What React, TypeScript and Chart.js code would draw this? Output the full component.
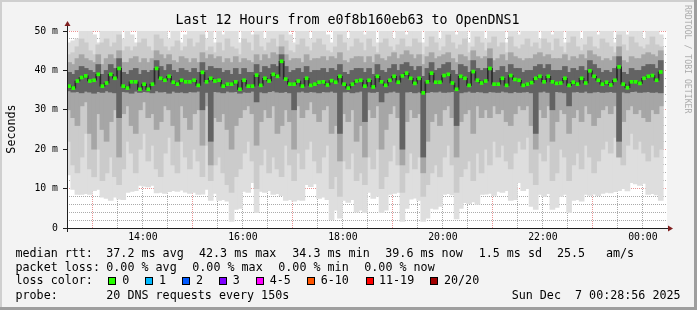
import React, { useEffect, useRef } from 'react';
import { Chart, registerables } from 'chart.js';
Chart.register(...registerables);

// time axis: minutes since midnight (start 12:28:56, 12 hours span)
const START_MIN = 12 * 60 + 28 + 56 / 60;
const SPAN_MIN = 720;
const STEP_MIN = 5;

const TITLE = 'Last 12 Hours from e0f8b160eb63 to OpenDNS1';
const X_TICK_VALUES = [840, 960, 1080, 1200, 1320, 1440];
const X_TICK_LABELS = ['14:00', '16:00', '18:00', '20:00', '22:00', '00:00'];
const X_GRID_VALUES = [750, 780, 810, 840, 870, 900, 930, 960, 990, 1020, 1050, 1080, 1110, 1140, 1170, 1200, 1230, 1260, 1290, 1320, 1350, 1380, 1410, 1440];
const Y_TICK_VALUES = [0, 10, 20, 30, 40, 50];
const Y_TICK_LABELS = ['0', '10 m', '20 m', '30 m', '40 m', '50 m'];

// median rtt (ms) per 5-minute column
const MEDIAN = [
  36.0, 35.5, 37.3, 38.2, 38.6, 37.3, 37.5, 39.0, 36.0, 36.8,
  39.0, 38.0, 40.5, 36.0, 35.5, 37.1, 37.1, 35.2, 36.5, 35.2,
  36.5, 40.5, 38.0, 37.5, 38.5, 37.0, 36.5, 37.5, 37.1, 37.1,
  37.5, 36.2, 39.5, 37.1, 38.0, 37.3, 37.5, 36.0, 36.5, 36.5,
  37.1, 35.2, 37.5, 36.0, 36.0, 38.8, 36.2, 38.0, 37.3, 39.0,
  38.5, 42.3, 37.8, 36.5, 36.5, 37.3, 36.0, 38.0, 36.2, 36.5,
  37.0, 37.1, 36.3, 37.4, 37.0, 38.5, 36.5, 35.5, 36.5, 37.3,
  37.5, 36.0, 37.5, 35.8, 38.5, 37.1, 36.2, 37.5, 38.5, 37.0,
  38.6, 39.3, 38.0, 36.7, 38.0, 34.3, 37.1, 39.3, 37.0, 37.0,
  38.7, 39.0, 36.8, 35.2, 38.5, 38.0, 36.2, 39.7, 37.5, 36.8,
  37.3, 40.5, 36.5, 36.5, 38.0, 36.2, 38.7, 37.7, 37.5, 36.2,
  36.5, 36.9, 38.0, 38.5, 37.1, 38.5, 37.1, 36.7, 36.8, 38.0,
  36.2, 37.0, 36.5, 38.0, 36.8, 39.9, 38.5, 37.5, 36.5, 37.0,
  36.3, 37.5, 40.9, 36.5, 35.6, 37.1, 37.1, 36.7, 38.0, 38.5,
  38.7, 37.5, 39.6,
];

// smoke: lowest ping per column
const SMOKE_MIN = [
  13.5, 9.8, 8.5, 8.5, 8.7, 8.5, 9.5, 9.8, 7.8, 7.5,
  7.0, 7.8, 7.3, 7.2, 9.0, 9.3, 9.5, 10.8, 10.6, 10.4,
  10.8, 8.9, 9.0, 8.8, 9.2, 9.5, 9.3, 9.6, 9.1, 8.8,
  9.0, 8.5, 8.6, 9.8, 7.0, 8.8, 7.0, 7.2, 6.8, 1.7,
  4.7, 5.0, 9.3, 9.0, 11.5, 3.9, 9.3, 9.0, 9.5, 8.5,
  8.7, 8.2, 7.0, 7.2, 6.8, 7.1, 7.0, 11.0, 10.5, 11.2,
  7.5, 7.8, 7.2, 2.1, 4.5, 2.5, 7.0, 6.5, 7.2, 4.0,
  4.5, 3.9, 9.0, 7.5, 8.0, 3.9, 4.5, 8.5, 8.8, 9.0,
  1.7, 5.0, 7.3, 7.6, 7.0, 1.7, 2.5, 5.0, 4.8, 5.5,
  8.5, 8.7, 8.4, 2.3, 5.0, 6.4, 6.2, 6.6, 6.0, 8.5,
  8.6, 8.8, 8.3, 9.3, 9.0, 9.5, 7.0, 7.2, 11.5, 9.5,
  10.0, 5.5, 4.7, 8.5, 8.0, 8.7, 4.7, 5.2, 8.0, 8.5,
  3.9, 7.0, 7.2, 6.8, 8.5, 8.3, 8.6, 8.2, 8.8, 9.0,
  8.9, 9.2, 9.5, 10.0, 9.4, 11.5, 11.2, 10.8, 11.3, 8.5,
  8.7, 8.4, 7.0,
];
// smoke: lower edge of the mid-grey band
const SMOKE_LOW2 = [
  22, 16, 14, 18, 24, 15, 13, 20, 12, 14,
  18, 13, 11, 15, 22, 19, 14, 20, 24, 17,
  21, 15, 13, 19, 23, 16, 14, 22, 18, 15,
  20, 17, 13, 21, 12, 16, 18, 14, 11, 9,
  13, 15, 19, 22, 17, 10, 16, 20, 14, 18,
  15, 13, 21, 16, 12, 19, 15, 20, 22, 17,
  14, 18, 21, 10, 13, 8, 17, 15, 19, 12,
  14, 11, 18, 15, 20, 10, 13, 17, 21, 16,
  9, 14, 19, 15, 18, 8, 11, 14, 16, 13,
  18, 21, 16, 9, 13, 15, 17, 12, 19, 14,
  20, 16, 22, 18, 21, 17, 15, 19, 22, 20,
  23, 14, 11, 19, 17, 21, 12, 14, 20, 18,
  12, 16, 19, 15, 21, 18, 14, 17, 20, 22,
  19, 23, 18, 16, 21, 24, 20, 22, 19, 17,
  21, 18, 20,
];
// smoke: lower edge of the grey band
const SMOKE_LOW3 = [
  30, 28, 26, 31, 32, 24, 20, 29, 25, 22,
  27, 30, 18, 29, 31, 26, 24, 30, 32, 28,
  29, 25, 27, 31, 30, 26, 22, 31, 28, 25,
  29, 30, 21, 31, 16, 28, 27, 29, 25, 20,
  26, 28, 30, 31, 29, 21, 27, 30, 28, 31,
  24, 26, 30, 27, 20, 31, 28, 30, 32, 29,
  27, 30, 31, 24, 26, 17, 29, 27, 30, 22,
  26, 18, 30, 28, 31, 20, 25, 29, 31, 28,
  16, 27, 30, 28, 29, 14, 22, 27, 29, 26,
  30, 31, 28, 18, 27, 29, 30, 24, 31, 28,
  30, 28, 31, 29, 30, 27, 26, 29, 31, 30,
  31, 26, 20, 30, 28, 31, 22, 27, 30, 29,
  24, 28, 30, 27, 31, 29, 26, 28, 30, 31,
  29, 31, 18, 27, 30, 31, 29, 30, 28, 27,
  30, 29, 31,
];
// smoke: dark core, lower edge
const CORE_LOW = [
  34.8, 34.5, 34.6, 34.3, 34.7, 34.5, 34.2, 34.6, 34.4, 34.8,
  34.5, 34.3, 28, 34.6, 34.5, 34.2, 34.7, 34.4, 34.6, 34.5,
  34.3, 34.8, 34.5, 34.6, 34.2, 34.7, 34.4, 34.5, 34.3, 34.6,
  34.5, 34.7, 30, 34.4, 22, 34.6, 34.5, 34.3, 34.7, 34.5,
  34.6, 34.2, 34.5, 34.4, 34.7, 32, 34.5, 34.3, 34.6, 34.8,
  34.5, 34.4, 34.6, 34.3, 30, 34.5, 34.7, 34.4, 34.6, 34.5,
  34.3, 34.6, 34.5, 34.7, 34.4, 24, 34.5, 34.6, 34.3, 34.5,
  34.7, 27, 34.5, 34.4, 34.6, 32, 34.3, 34.5, 34.7, 34.4,
  20, 34.5, 34.6, 34.3, 34.5, 18, 34.4, 34.6, 34.5, 34.7,
  34.4, 34.5, 34.6, 26, 34.3, 34.5, 34.7, 34.4, 34.6, 34.5,
  34.3, 34.6, 34.5, 34.4, 34.7, 34.5, 34.3, 34.6, 34.4, 34.5,
  34.6, 34.3, 24, 34.5, 34.7, 34.4, 30, 34.6, 34.5, 34.3,
  31, 34.5, 34.6, 34.4, 34.7, 34.3, 34.5, 34.6, 34.4, 34.5,
  34.6, 34.4, 22, 34.5, 34.3, 34.6, 34.7, 34.4, 34.5, 34.6,
  34.4, 34.5, 34.3,
];
// smoke: dark core, upper edge
const CORE_HIGH = [
  39.5, 39.0, 40.0, 41.0, 40.5, 40.0, 39.5, 41.5, 39.0, 40.0,
  41.5, 40.5, 43.0, 39.5, 39.0, 40.0, 40.5, 39.0, 40.0, 39.5,
  40.0, 42.5, 41.0, 40.0, 41.5, 40.0, 39.5, 40.5, 40.0, 39.5,
  40.5, 39.5, 42.0, 40.0, 41.0, 40.5, 40.5, 39.5, 40.0, 39.0,
  40.5, 39.0, 40.5, 39.5, 39.5, 41.5, 39.5, 41.0, 40.5, 41.5,
  41.0, 44.0, 41.0, 39.5, 40.0, 40.5, 39.5, 41.0, 39.5, 40.0,
  40.0, 40.5, 39.5, 40.5, 40.0, 41.5, 39.5, 39.0, 40.0, 40.5,
  40.5, 39.5, 40.5, 39.0, 41.5, 40.0, 39.5, 40.5, 41.5, 40.0,
  41.5, 42.0, 41.0, 40.0, 41.0, 38.5, 40.5, 42.0, 40.0, 40.5,
  41.5, 42.0, 40.0, 39.0, 41.5, 41.0, 39.5, 42.5, 40.5, 40.0,
  40.5, 43.0, 39.5, 40.0, 41.0, 39.5, 41.5, 40.5, 40.5, 39.5,
  40.0, 40.0, 41.0, 41.5, 40.5, 41.5, 40.0, 40.0, 40.0, 41.0,
  39.5, 40.5, 40.0, 41.0, 40.0, 42.5, 41.5, 40.5, 39.5, 40.0,
  39.5, 40.5, 43.5, 39.5, 39.0, 40.5, 40.0, 40.0, 41.0, 41.5,
  41.5, 40.5, 42.5,
];
// smoke: upper edge of the grey band
const SMOKE_HIGH3 = [
  42, 41.5, 43, 44, 43, 42.5, 42, 44, 41.5, 43,
  44, 43, 45, 42, 42, 43, 43.5, 42, 43, 42,
  43, 45, 44, 43, 44, 42.5, 42, 43.5, 43, 42,
  43, 42, 44.5, 43, 44, 43, 43.5, 42, 43, 42,
  43.5, 42, 43, 42.5, 42, 44, 42.5, 44, 43, 44.5,
  44, 46, 44, 42.5, 43, 43, 42, 44, 42.5, 43,
  43, 43.5, 42.5, 43.5, 43, 44.5, 42.5, 42, 43, 43.5,
  43.5, 42, 43.5, 42, 44, 43, 42.5, 43.5, 44.5, 43,
  44, 45, 44, 43, 44, 41.5, 43.5, 44.5, 43, 43.5,
  44, 44.5, 43, 42, 44, 43.5, 42.5, 45, 43.5, 43,
  43.5, 45.5, 42.5, 43, 44, 42.5, 44.5, 43.5, 43, 42.5,
  43, 43, 44, 44.5, 43.5, 44, 43, 43, 43, 44,
  42.5, 43.5, 43, 44, 43, 45, 44, 43.5, 42.5, 43,
  42.5, 43.5, 46, 42.5, 42, 43.5, 43, 43, 44, 44.5,
  44, 43.5, 45,
];
// smoke: upper edge of the mid-grey band
const SMOKE_HIGH2 = [
  44, 44.5, 46, 48, 47, 45, 44, 46.5, 47, 48,
  46, 47, 49, 45, 46, 45, 46, 47, 48, 46,
  45, 49, 48, 46, 45, 46, 47.5, 45, 46, 48,
  46, 47, 49, 45, 46, 44.5, 47, 45, 48, 46,
  45.5, 44, 48, 47, 45, 49, 46, 45, 47, 48,
  46, 49, 47.5, 45, 44.5, 46.5, 48, 46, 45, 47,
  48, 46.5, 45, 44.5, 46, 49, 47, 45, 46, 48,
  47, 45, 48, 46, 44.5, 47, 48, 46, 45, 46.5,
  48, 46, 46, 48, 47, 44, 46, 48.5, 47, 45,
  46, 49, 47, 45.5, 46.5, 48, 44.5, 46, 48.5, 47,
  45, 47, 48.5, 46, 47, 44.5, 48.5, 46, 45.5, 46.5,
  48, 46, 47, 45.5, 48, 47, 45, 48, 46, 44.5,
  47, 48.5, 46, 45, 46.5, 48.5, 46, 45.5, 48, 47,
  46, 44.5, 49, 46.5, 45, 48.5, 47, 46, 45.5, 46.5,
  48.5, 46.5, 46,
];
// smoke: highest ping per column
const SMOKE_MAX = [
  47, 47.5, 48, 52, 55, 50, 49, 47, 52, 55,
  51, 53, 55, 48, 52, 49, 47, 52, 55, 53,
  50, 55, 55, 52, 48, 50, 53, 47, 49, 55,
  51, 52, 55, 48, 50, 47, 53, 49, 55, 52,
  50, 47, 55, 53, 49, 55, 51, 48, 52, 55,
  50, 55, 53, 49, 47, 52, 55, 50, 48, 53,
  55, 52, 49, 47, 51, 55, 53, 48, 50, 55,
  52, 49, 55, 51, 47, 53, 55, 50, 48, 52,
  55, 49, 51, 55, 53, 47, 50, 55, 52, 48,
  51, 55, 53, 49, 52, 55, 47, 50, 55, 53,
  48, 52, 55, 50, 53, 47, 55, 51, 49, 52,
  55, 50, 53, 48, 55, 52, 49, 55, 51, 47,
  53, 55, 50, 48, 52, 55, 51, 49, 55, 53,
  50, 47, 55, 52, 49, 55, 53, 50, 48, 52,
  55, 51, 49,
];

const LEGEND_ROW1 = [
  { x: 15.5, t: 'median rtt:' },
  { x: 106.3, t: '37.2 ms avg' },
  { x: 199, t: '42.3 ms max' },
  { x: 292.3, t: '34.3 ms min' },
  { x: 385.3, t: '39.6 ms now' },
  { x: 478.7, t: '1.5 ms sd' },
  { x: 557, t: '25.5' },
  { x: 606, t: 'am/s' },
];
const LEGEND_ROW2 = [
  { x: 15.5, t: 'packet loss:' },
  { x: 106.3, t: '0.00 % avg' },
  { x: 192.3, t: '0.00 % max' },
  { x: 278.3, t: '0.00 % min' },
  { x: 364.3, t: '0.00 % now' },
];
const LOSS_LABELS = ['0', '1', '2', '3', '4-5', '6-10', '11-19', '20/20'];
const LOSS_COLORS = ['#26ff00', '#00b8ff', '#0059ff', '#7e00ff', '#ff00ff', '#ff5500', '#ff0000', '#a10000'];
const LOSS_BOX_X = [108, 145, 182, 219, 256, 307, 365.5, 430];
const LOSS_LABEL_X = [122.3, 159, 196, 232.7, 269.7, 320.7, 379, 444];
const PROBE_TEXT = '20 DNS requests every 150s';
const DATE_TEXT = 'Sun Dec  7 00:28:56 2025';

const MONO = '"DejaVu Sans Mono", monospace';
const GRID = 'rgba(143,143,143,0.75)';
const MGRID = 'rgba(222,79,79,0.6)';

const xs = MEDIAN.map((_, k) => START_MIN + STEP_MIN * k + STEP_MIN / 2);

function band(lo: number[], hi: number[], color: string, order: number, thick: number) {
  return {
    type: 'bar' as const,
    data: xs.map((x, k) => ({ x, y: [lo[k], hi[k]] })),
    backgroundColor: color,
    borderWidth: 0,
    barThickness: thick,
    grouped: false,
    order,
    clip: 0,
  };
}

const framePlugin = {
  id: 'frame',
  beforeDraw(chart: any) {
    const { ctx, chartArea: a } = chart;
    ctx.save();
    ctx.fillStyle = '#ffffff';
    ctx.fillRect(a.left, a.top, a.right - a.left, a.bottom - a.top);
    ctx.restore();
  },
  afterDraw(chart: any) {
    const { ctx, chartArea: a } = chart;
    const xl = Math.round(a.left) + 0.5;
    const yb = Math.round(a.bottom) + 0.5;
    ctx.save();
    ctx.strokeStyle = '#1f1f1f';
    ctx.lineWidth = 1;
    ctx.beginPath();
    ctx.moveTo(a.left - 4, yb);
    ctx.lineTo(a.right + 2, yb);
    ctx.moveTo(xl, a.bottom + 4);
    ctx.lineTo(xl, a.top - 6);
    ctx.stroke();
    ctx.fillStyle = '#801f1f';
    ctx.beginPath();
    ctx.moveTo(a.right + 1, yb - 3);
    ctx.lineTo(a.right + 6, yb);
    ctx.lineTo(a.right + 1, yb + 3);
    ctx.closePath();
    ctx.fill();
    ctx.beginPath();
    ctx.moveTo(xl - 3, a.top - 5);
    ctx.lineTo(xl, a.top - 10);
    ctx.lineTo(xl + 3, a.top - 5);
    ctx.closePath();
    ctx.fill();
    ctx.restore();
  },
};

function Txt({ x, baseline, size, children, color = '#000' }: any) {
  return (
    <div
      style={{
        position: 'absolute',
        left: x,
        top: baseline - 0.846 * size,
        fontFamily: MONO,
        fontSize: size,
        lineHeight: `${size}px`,
        whiteSpace: 'pre',
        color,
      }}
    >
      {children}
    </div>
  );
}

export default function App() {
  const ref = useRef<HTMLCanvasElement>(null);
  useEffect(() => {
    document.body.style.margin = '0';
    const connectors = MEDIAN.slice(1).map((m, i) => ({
      x: START_MIN + STEP_MIN * (i + 1),
      y: [Math.min(MEDIAN[i], m), Math.max(MEDIAN[i], m)],
    }));
    const chart = new Chart(ref.current as HTMLCanvasElement, {
      type: 'bar',
      data: {
        datasets: [
          {
            type: 'bar',
            data: xs.map((x, k) => ({ x, y: [MEDIAN[k] - 0.38, MEDIAN[k] + 0.38] })),
            backgroundColor: '#26ff00',
            borderWidth: 0,
            barThickness: 3,
            grouped: false,
            order: 0,
            clip: 0,
          } as any,
          {
            type: 'bar',
            data: connectors,
            backgroundColor: '#2a2a2a',
            borderWidth: 0,
            barThickness: 1,
            grouped: false,
            order: 1,
            clip: 0,
          } as any,
          band(CORE_LOW, CORE_HIGH, '#636363', 2, 5) as any,
          band(SMOKE_LOW3, SMOKE_HIGH3, '#a6a6a6', 3, 5) as any,
          band(SMOKE_LOW2, SMOKE_HIGH2, '#cbcbcb', 4, 5) as any,
          band(SMOKE_MIN, SMOKE_MAX, '#dedede', 5, 5) as any,
        ],
      },
      options: {
        responsive: false,
        animation: false,
        events: [],
        layout: { padding: { top: 31, right: 30, left: 0, bottom: 0 } },
        plugins: { legend: { display: false }, tooltip: { enabled: false }, title: { display: false } },
        scales: {
          x: {
            type: 'linear',
            offset: false,
            min: START_MIN,
            max: START_MIN + SPAN_MIN,
            z: 1,
            afterBuildTicks: (s: any) => {
              s.ticks = X_GRID_VALUES.map((v) => ({ value: v }));
            },
            afterFit: (s: any) => {
              s.height = 82;
            },
            grid: {
              offset: false,
              color: (c: any) => (c.tick && c.tick.value % 120 === 60 ? MGRID : GRID),
              lineWidth: 1,
              drawTicks: false,
            },
            border: { display: false, dash: [1, 1] },
            ticks: {
              autoSkip: false,
              maxRotation: 0,
              padding: 4,
              color: '#000',
              font: { family: MONO, size: 9.8 },
              callback: (v: any) => {
                const i = X_TICK_VALUES.indexOf(Number(v));
                return i >= 0 ? X_TICK_LABELS[i] : '';
              },
            },
          },
          y: {
            min: 0,
            max: 50,
            z: 1,
            afterFit: (s: any) => {
              s.width = 67;
            },
            grid: {
              color: (c: any) => {
                const v = c.tick ? c.tick.value : 0;
                if (v === 0) return 'rgba(0,0,0,0)';
                return v % 10 === 0 ? MGRID : GRID;
              },
              lineWidth: 1,
              tickLength: 4,
              tickColor: (c: any) => {
                const v = c.tick ? c.tick.value : 0;
                return v % 10 === 0 ? '#1f1f1f' : 'rgba(0,0,0,0)';
              },
            },
            border: { display: false, dash: [1, 1] },
            ticks: {
              stepSize: 2,
              autoSkip: false,
              padding: 5,
              color: '#000',
              font: { family: MONO, size: 9.8 },
              callback: (v: any) => {
                const i = Y_TICK_VALUES.indexOf(Number(v));
                return i >= 0 ? Y_TICK_LABELS[i] : '';
              },
            },
          },
        },
      } as any,
      plugins: [framePlugin],
    });
    return () => chart.destroy();
  }, []);

  return (
    <div style={{ position: 'relative', width: 697, height: 310, background: '#f3f3f3', overflow: 'hidden' }}>
      <canvas ref={ref} width={697} height={310} style={{ position: 'absolute', left: 0, top: 0, width: 697, height: 310 }} />
      <div style={{ position: 'absolute', left: 0, top: 0, width: 697, height: 2, background: '#cfcfcf' }} />
      <div style={{ position: 'absolute', left: 0, top: 0, width: 2, height: 310, background: '#cfcfcf' }} />
      <div style={{ position: 'absolute', left: 0, top: 307, width: 697, height: 3, background: '#9e9e9e' }} />
      <div style={{ position: 'absolute', left: 694, top: 0, width: 3, height: 310, background: '#9e9e9e' }} />
      <div
        style={{
          position: 'absolute', left: 0, width: 695, top: 24 - 0.846 * 13.3, textAlign: 'center',
          fontFamily: MONO, fontSize: 13.3, lineHeight: '13.3px', whiteSpace: 'pre', color: '#000',
        }}
      >
        {TITLE}
      </div>
      <div
        style={{
          position: 'absolute', left: 11 - 30, top: 128.5 - 6, width: 60, height: 12, textAlign: 'center',
          fontFamily: MONO, fontSize: 11.7, lineHeight: '12px', whiteSpace: 'pre', color: '#000',
          transform: 'rotate(-90deg)', transformOrigin: 'center',
        }}
      >
        Seconds
      </div>
      <div
        style={{
          position: 'absolute', left: 688 - 60, top: 65 - 5, width: 120, height: 10, textAlign: 'left',
          fontFamily: MONO, fontSize: 8.2, lineHeight: '10px', whiteSpace: 'pre', color: '#ababab',
          transform: 'rotate(90deg)', transformOrigin: 'center',
        }}
      >
        RRDTOOL / TOBI OETIKER
      </div>
      {LEGEND_ROW1.map((s, i) => (
        <Txt key={'r1' + i} x={s.x} baseline={257.7} size={11.7}>{s.t}</Txt>
      ))}
      {LEGEND_ROW2.map((s, i) => (
        <Txt key={'r2' + i} x={s.x} baseline={272} size={11.7}>{s.t}</Txt>
      ))}
      <Txt x={15.5} baseline={285.3} size={11.7}>loss color:</Txt>
      {LOSS_LABELS.map((l, i) => (
        <React.Fragment key={'lc' + i}>
          <div
            style={{
              position: 'absolute', left: LOSS_BOX_X[i], top: 277, width: 8, height: 8,
              border: '1px solid #000', background: LOSS_COLORS[i], boxSizing: 'border-box',
            }}
          />
          <Txt x={LOSS_LABEL_X[i]} baseline={285.3} size={11.7}>{l}</Txt>
        </React.Fragment>
      ))}
      <Txt x={15.5} baseline={300} size={11.7}>probe:</Txt>
      <Txt x={106.3} baseline={300} size={11.7}>{PROBE_TEXT}</Txt>
      <Txt x={511.7} baseline={300} size={11.7}>{DATE_TEXT}</Txt>
    </div>
  );
}
